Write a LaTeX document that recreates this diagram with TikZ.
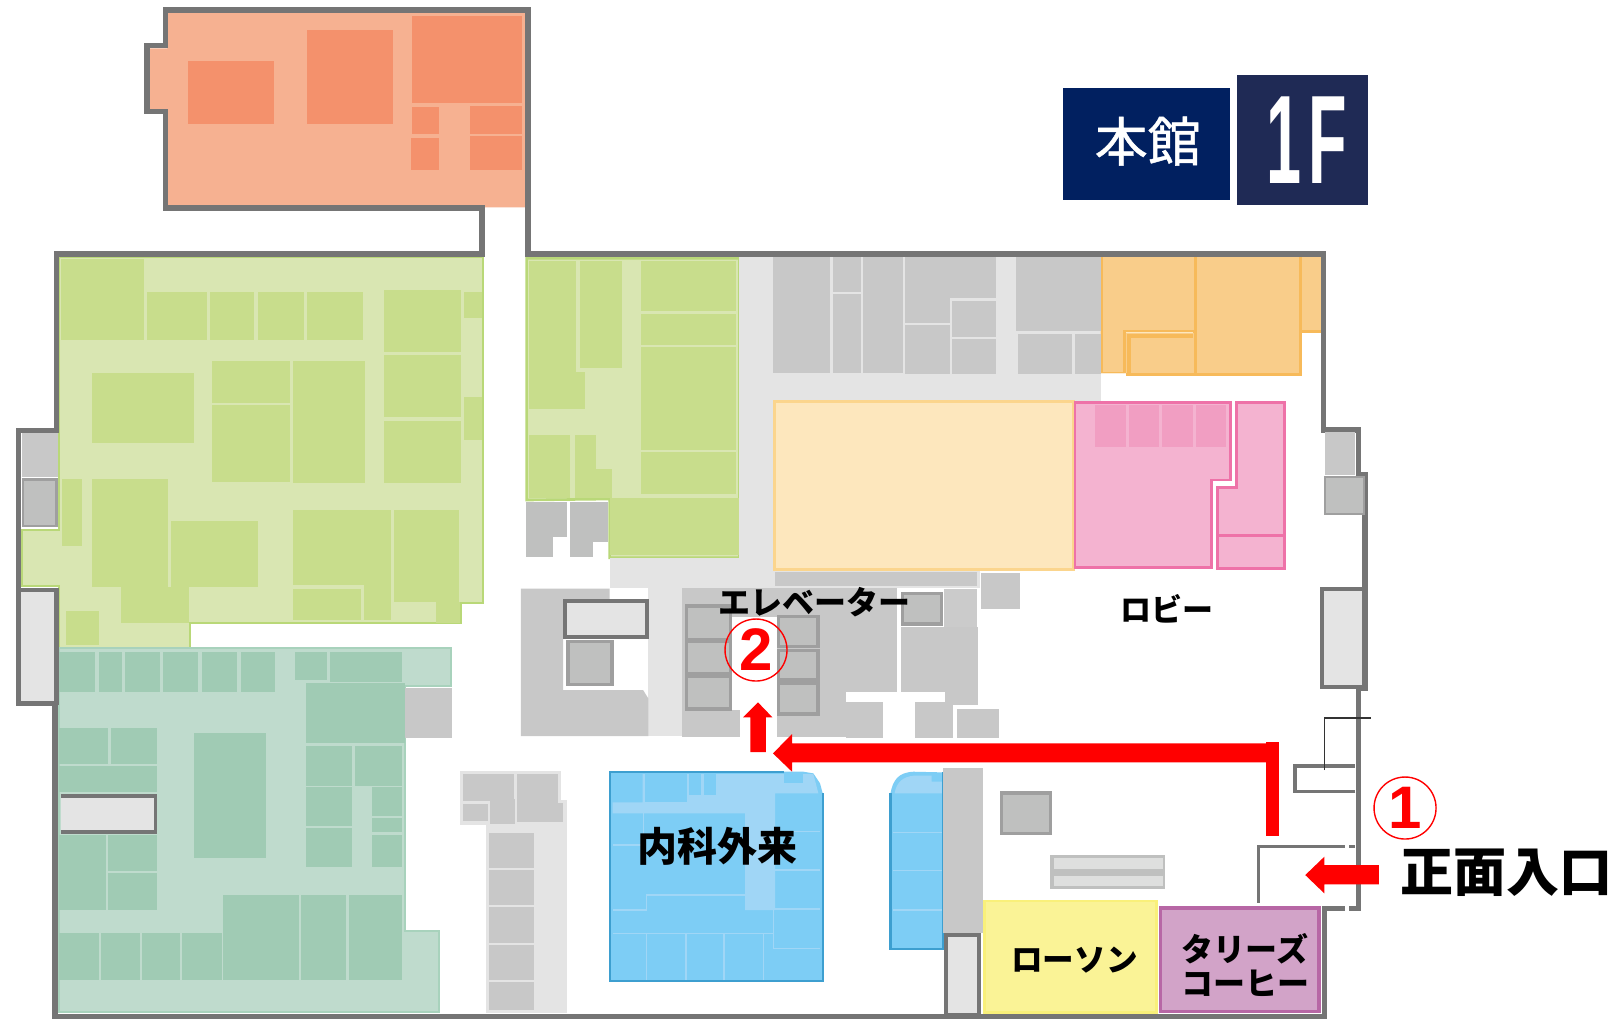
\documentclass[tikz,border=0pt]{standalone}
\usepackage{fontspec}
\newfontfamily\cjk{Noto Sans CJK JP}
\newfontfamily\cjkmed[FakeBold=0.9]{Noto Sans CJK JP}
\newfontfamily\lat{Liberation Sans}
\definecolor{wall}{HTML}{757575}
\definecolor{oL}{HTML}{F6B191}
\definecolor{oD}{HTML}{F4916C}
\definecolor{gL}{HTML}{D9E6B2}
\definecolor{gD}{HTML}{C8DD8C}
\definecolor{gB}{HTML}{B9D878}
\definecolor{tL}{HTML}{BFDBCD}
\definecolor{tD}{HTML}{A0CBB4}
\definecolor{tB}{HTML}{A8D2BC}
\definecolor{grL}{HTML}{E4E4E4}
\definecolor{grM}{HTML}{C8C8C8}
\definecolor{grD}{HTML}{BFC0BF}
\definecolor{grB}{HTML}{9F9F9F}
\definecolor{yoF}{HTML}{F9CD8A}
\definecolor{yoB}{HTML}{F7BA5A}
\definecolor{crF}{HTML}{FDE7BD}
\definecolor{crB}{HTML}{FBD58D}
\definecolor{pkF}{HTML}{F4B3D0}
\definecolor{pkB}{HTML}{EE72A8}
\definecolor{pkD}{HTML}{F19EC2}
\definecolor{blF}{HTML}{7DCDF5}
\definecolor{blL}{HTML}{A0D6F6}
\definecolor{blB}{HTML}{3D9FD0}
\definecolor{yeF}{HTML}{FAF396}
\definecolor{yeB}{HTML}{F9F07A}
\definecolor{puF}{HTML}{D2A3C8}
\definecolor{puB}{HTML}{B767A5}
\definecolor{navyA}{HTML}{012060}
\definecolor{navyB}{HTML}{1F2A55}
\tikzset{
  wallline/.style={draw=wall,line width=2.7pt,miter limit=10},
  thinwall/.style={draw=wall,line width=1.6pt},
  lift/.style={fill=grD,draw=grB,line width=1.7pt},
  shaft/.style={fill=grL,draw=wall,line width=1.8pt},
  blueline/.style={draw=blL,line width=.7pt},
  lab/.style={text=black,inner sep=0pt},
  ring/.style={circle,draw=red,line width=.7pt,minimum size=31pt,inner sep=0pt,text=red,font=\lat\bfseries\fontsize{30}{30}\selectfont},
  route/.style={fill=red}
}
\begin{document}
\begin{tikzpicture}[x=0.25765pt,y=-0.166667pt]
\useasboundingbox (0,0) rectangle (3136,3060);
\fill[white] (0,0) rectangle (3136,3060);
%---- large base areas
\fill[oL] (325,38)--(1020,38)--(1020,622)--(938,622)--(938,615)--(325,615)--(325,340)--(290,340)--(290,145)--(325,145)--cycle;
\filldraw[fill=gL,draw=gB,line width=1pt] (115,770)--(938,770)--(938,1808)--(895,1808)--(895,1870)--(368,1870)--(368,1945)--(115,1945)--(115,1758)--(42,1758)--(42,1590)--(115,1590)--cycle;
\filldraw[fill=gL,draw=gB,line width=1.3pt] (1022,775)--(1435,775)--(1435,1673)--(1183,1673)--(1183,1497)--(1022,1500)--cycle;
\fill[grL] (1435,770) rectangle (2136,1205);
\fill[grL] (1435,770) rectangle (1500,1720);
\fill[grL] (1183,1673) rectangle (1902,1764);
\fill[grL] (1258,1764) rectangle (1323,2208);
\filldraw[fill=crF,draw=crB,line width=1.6pt] (1503,1205) rectangle (2083,1708);
\filldraw[fill=tL,draw=tB,line width=1pt] (115,1945)--(876,1945)--(876,2058)--(785,2058)--(785,2793)--(852,2793)--(852,3037)--(115,3037)--cycle;
\filldraw[fill=pkF,draw=pkB,line width=1.4pt] (2086,1208)--(2388,1208)--(2388,1440)--(2351,1440)--(2351,1702)--(2086,1702)--cycle;
\filldraw[fill=pkF,draw=pkB,line width=1.4pt] (2400,1208)--(2493,1208)--(2493,1606)--(2363,1606)--(2363,1462)--(2400,1462)--cycle;
\filldraw[fill=pkF,draw=pkB,line width=1.4pt] (2363,1608) rectangle (2493,1706);
% yellow-orange room, under the wall
\fill[yoF] (2136,754)--(2573,754)--(2573,995)--(2525,995)--(2525,1124)--(2186,1124)--(2186,1120)--(2136,1120)--cycle;
\draw[yoB,line width=.8pt] (2138,770)--(2138,1118)--(2186,1118);
\draw[yoB,line width=1.5pt] (2320,770)--(2320,1122)--(2186,1122);
\draw[yoB,line width=1.5pt] (2320,1122)--(2523,1122)--(2523,770);
\draw[yoB,line width=1.2pt] (2523,995)--(2573,995);
\draw[yoB,line width=1.5pt] (2183,1120)--(2183,993)--(2318,993);
\draw[yoB,line width=2pt] (2190,1120)--(2190,1008)--(2316,1008);
\draw[crF,line width=.5pt] (2186,998)--(2316,998);
% outline wall
\draw[wallline] (321,30)--(1025,30)--(1025,762)--(2568,762)--(2568,1290)--(2636,1290)--(2636,1425)--(2649,1425)--(2649,2065)--(2636,2065)--(2636,2725)--(2570,2725)--(2570,3050)--(107,3050)--(107,2110)--(36,2110)--(36,1292)--(110,1292)--(110,762)--(935,762)--(935,624)--(321,624)--(321,335)--(285,335)--(285,137)--(321,137)--cycle;
%---- upper left
\foreach \a/\b/\c/\d in {365/184/532/372,596/90/763/372,800/49/1013/310,800/321/852/402,912/318/1013/402,798/413/852/511,912/408/1013/511}
  \fill[oD] (\a,\b) rectangle (\c,\d);
\foreach \a/\b/\c/\d in {118/778/279/1020,286/875/401/1020,407/875/493/1020,501/875/589/1020,596/875/705/1020,745/871/895/1057,900/875/935/955,745/1065/895/1251,745/1262/895/1448,900/1190/935/1320,179/1120/376/1330,411/1082/563/1208,411/1214/563/1445,568/1082/708/1448,
  121/1438/159/1638,179/1438/326/1760,234/1760/366/1870,332/1564/501/1760,568/1530/758/1756,568/1767/700/1860,706/1756/758/1860,765/1530/890/1805,846/1805/893/1868,128/1833/192/1935,
  1027/783/1118/1115,1027/1115/1135/1227,1125/783/1207/1105,1243/783/1428/932,1243/942/1428/1035,1243/1041/1428/1350,1243/1357/1428/1482,1027/1305/1107/1495,1115/1305/1157/1495,1157/1408/1188/1495,1183/1495/1435/1665}
  \fill[gD] (\a,\b) rectangle (\c,\d);
\foreach \a/\b/\c/\d in {1020/1505/1100/1610,1020/1610/1073/1670,1107/1505/1180/1625,1107/1625/1150/1670}
  \fill[grD] (\a,\b) rectangle (\c,\d);
\fill[grM] (42,1300) rectangle (112,1432);
\filldraw[lift,line width=1.2pt] (45,1438) rectangle (110,1578);
\draw[shaft,line width=2.2pt] (36,1770) rectangle (110,2108);
%---- grey rooms top centre
\begin{scope}[shift={(1568,0)}]
\foreach \a/\b/\c/\d in {-68/770/-0/1118,0/770/42/1118,48/770/103/875,48/881/103/1118,107/770/185/1118,188/770/364/895,188/895/275/970,188/976/275/1122,280/903/364/1010,280/1016/364/1122,404/770/568/993,408/1003/513/1122,518/1003/568/1122}
  \fill[grM] (\a,\b) rectangle (\c,\d);
\foreach \a/\b/\c/\d in {557/1215/618/1340,623/1215/682/1340,687/1215/748/1340,753/1215/812/1340}
  \fill[pkD] (\a,\b) rectangle (\c,\d);
\node[fill=navyA,minimum width=83.2pt,minimum height=56.3pt,inner sep=0pt,text=white,font=\cjkmed\fontsize{26.5}{27}\selectfont] (honkan) at (656.5,432) {\hspace*{1.5pt}\raisebox{5pt}{本館}};
\node[fill=navyB,minimum width=65.5pt,minimum height=65.3pt,inner sep=0pt,text=white,font=\lat\bfseries\fontsize{63}{64}\selectfont] (floor) at (960,420) {\hspace*{4pt}\scalebox{.5}[1]{1\kern.12em F}};
\fill[grM] (1003,1295) rectangle (1062,1425);
\filldraw[lift,line width=1pt] (1003,1432) rectangle (1078,1541);
\end{scope}
%---- lower-left
\begin{scope}[shift={(0,1530)}]
\foreach \a/\b/\c/\d in {115/425/185/547,192/425/236/547,243/425/310/547,317/425/385/547,392/425/460/547,467/425/534/547,573/425/635/510,640/425/780/515,594/518/785/700,594/707/684/827,688/707/780/827,594/832/684/948,594/954/684/1070,721/830/780/917,721/923/780/965,721/975/780/1070,376/670/516/1043,115/653/210/762,216/653/304/762,115/768/304/845,115/975/205/1200,210/975/304/1083,210/1090/304/1200,115/1268/192/1410,196/1268/271/1410,276/1268/350/1410,354/1268/430/1410,433/1155/580/1410,585/1155/672/1410,677/1155/780/1410}
  \fill[tD] (\a,\b) rectangle (\c,\d);
\fill[grL] (118,858) rectangle (302,965);
\draw[wall,line width=1.8pt] (118,858)--(302,858)--(302,965)--(118,965);
\fill[grM] (785,533) rectangle (878,685);
\fill[grL] (893,782) rectangle (1088,945);
\fill[grL] (1080,870) rectangle (1100,940);
\fill[grL] (943,870) rectangle (1100,1510);
\foreach \a/\b/\c/\d in {898/792/997/873,898/883/947/932,951/866/999/941,1004/792/1082/880,1004/880/1092/937,949/968/1036/1073,949/1080/1036/1186,949/1192/1036/1298,949/1305/1036/1410,949/1416/1036/1500}
  \fill[grM] (\a,\b) rectangle (\c,\d);
\fill[grM] (1011,236)--(1183,236)--(1183,268)--(1093,268)--(1093,540)--(1248,540)--(1258,565)--(1258,678)--(1011,678)--cycle;
\draw[shaft] (1096,272) rectangle (1256,380);
\filldraw[lift] (1102,395) rectangle (1188,523);
\end{scope}
%---- elevator hall
\begin{scope}[shift={(1300.2,1710)},x=.166667pt,y=-.166667pt]
\foreach \a/\b/\c/\d in {35/55/682/140,35/140/186/420,35/420/210/500,320/140/682/365,320/365/528/500,528/397/640/505,692/172/925/365,824/365/925/405,736/397/848/505,862/418/987/505,314/5/920/47,933/8/1050/118}
  \fill[grM] (\a,\b) rectangle (\c,\d);
\fill[grM!90!grL] (822,57) rectangle (922,170);
\filldraw[lift] (698,71) rectangle (815,162);
\foreach \a/\b/\c/\d in {50/108/182/208,50/213/182/311,50/320/182/417,325/140/444/229,325/241/444/329,325/339/444/432}
  \filldraw[lift] (\a,\b) rectangle (\c,\d);
\end{scope}
%---- internal medicine
\begin{scope}[shift={(1164.4,2280)},x=.166667pt,y=-.166667pt]
\fill[blF] (30,35)--(610,35)--(640,40)--(660,70)--(668,100)--(668,662)--(30,662)--cycle;
\fill[blL] (128,42)--(640,42)--(655,100)--(525,100)--(525,450)--(435,450)--(435,160)--(38,160)--(38,127)--(128,127)--cycle;
\foreach \a/\b/\c/\d in {135/42/260/125,268/42/304/105,312/42/348/105,552/40/610/68}
  \fill[blF] (\a,\b) rectangle (\c,\d);
\draw[blueline] (130,160)--(130,255)--(38,255);
\draw[blueline] (435,405)--(140,405)--(140,450)--(38,450);
\draw[blueline] (38,520)--(520,520);
\foreach \a in {140,258,372,490}
  \draw[blueline] (\a,520)--(\a,660);
\draw[blueline] (520,450)--(520,565)--(660,565);
\draw[blueline] (525,215)--(660,215) (525,330)--(660,330) (525,447)--(660,447);
\draw[blB,line width=1.1pt] (552,35)--(30,35)--(30,662)--(668,662)--(668,100);
\end{scope}
%---- lower-right
\begin{scope}[shift={(1568,1530)}]
\fill[blF] (160,1318)--(160,850) .. controls (165,810) and (175,787) .. (205,785)--(262,787)--(262,1318)--cycle;
\fill[blL] (168,850) .. controls (172,815) and (185,800) .. (205,797)--(240,797)--(240,815)--(262,815)--(262,850)--cycle;
\draw[blB,line width=1.1pt] (262,787)--(262,1316)--(160,1316)--(160,850);
\draw[blL,line width=.7pt] (165,967)--(260,967) (165,1082)--(260,1082) (165,1200)--(260,1200);
\fill[grM] (262,775) rectangle (340,1270);
\draw[shaft] (268,1274) rectangle (332,1515);
\filldraw[fill=yeF,draw=yeB,line width=1.3pt] (342,1173) rectangle (676,1508);
\filldraw[fill=puF,draw=puB,line width=1.8pt] (684,1194) rectangle (992,1504);
\filldraw[lift] (376,849) rectangle (470,970);
\fill[grD] (470,1036) rectangle (693,1138);
\fill[grL!85!grD] (478,1045) rectangle (688,1077);
\fill[grL!85!grD] (478,1097) rectangle (688,1128);
\draw[thinwall] (1062,845)--(945,845)--(945,768)--(1062,768);
\draw[black!80,line width=.6pt] (1002,780)--(1002,624)--(1092,624);
\draw[wall,line width=1.5pt] (875,1178)--(875,1010)--(1042,1010);
\draw[wall,line width=1.5pt] (1050,1010)--(1062,1010);
\draw[shaft,fill=grL] (998,236) rectangle (1078,530);
\fill[white] (1043,1188) rectangle (1050,1203);
%---- route arrows
\fill[route] (888,697) rectangle (914,977);
\fill[route] (-68,730)--(-31,672)--(-31,700)--(888,700)--(914,700)--(914,757)--(-31,757)--(-31,785)--cycle;
\fill[route] (-97,577)--(-69,622)--(-82,622)--(-82,726)--(-112,726)--(-112,622)--(-126,622)--cycle;
\fill[route] (965,1095)--(1002,1040)--(1002,1065)--(1108,1065)--(1108,1123)--(1002,1123)--(1002,1150)--cycle;
\end{scope}
%---- labels in picture pixels
\begin{scope}[x=.5pt,y=-.5pt]
\node[lab,font=\cjk\bfseries\fontsize{16}{16}\selectfont] (elev) at (814,602) {エレベーター};
\node[lab,font=\cjk\bfseries\fontsize{15.5}{16}\selectfont] (lobby) at (1167,609) {ロビー};
\node[lab,font=\cjk\bfseries\fontsize{20}{20}\selectfont] (naika) at (717,846) {内科外来};
\node[lab,font=\cjk\bfseries\fontsize{26.5}{27}\selectfont] (entry) at (1506,873) {正面入口};
\node[lab,font=\cjk\bfseries\fontsize{15.8}{16}\selectfont] (lawson) at (1074.5,960) {ローソン};
\node[lab,font=\cjk\bfseries\fontsize{16}{16}\selectfont] (tullys) at (1245,949) {タリーズ};
\node[lab,font=\cjk\bfseries\fontsize{16}{16}\selectfont] (coffee) at (1245,983) {コーヒー};
\node[ring] (one) at (1405,808) {1};
\node[ring] (two) at (756,650) {2};
\end{scope}
\end{tikzpicture}
\end{document}
